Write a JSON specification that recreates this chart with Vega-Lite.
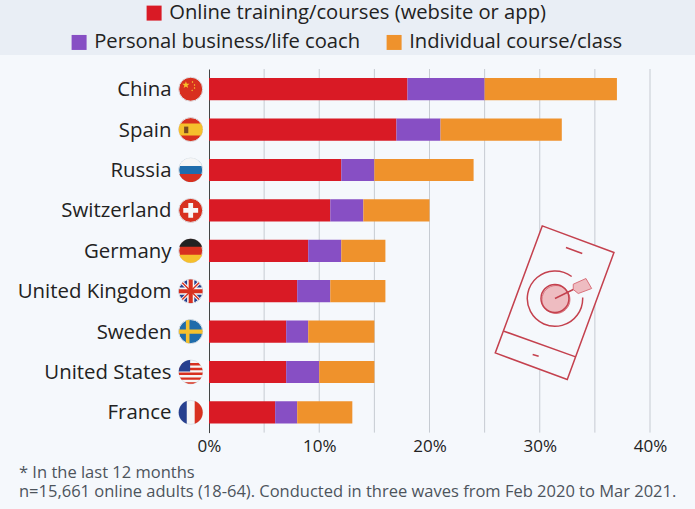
{"$schema":"https://vega.github.io/schema/vega-lite/v6.json","width":441,"height":363.6,"autosize":"none","padding":{"left":209,"top":69,"right":45,"bottom":76.4},"background":"#f5f8fc","config":{"view":{"stroke":null},"font":"Open Sans"},
"title":{"text":["* In the last 12 months","n=15,661 online adults (18-64). Conducted in three waves from Feb 2020 to Mar 2021."],"orient":"bottom","anchor":"start","frame":"group","dx":-190,"offset":10,"font":"Open Sans","fontSize":16.5,"fontWeight":"normal","color":"#4d545c","lineHeight":19.5},
"datasets":{"bars":[
{"country":"China","series":"Online training/courses (website or app)","rank":1,"value":18},{"country":"China","series":"Personal business/life coach","rank":2,"value":7},{"country":"China","series":"Individual course/class","rank":3,"value":12},
{"country":"Spain","series":"Online training/courses (website or app)","rank":1,"value":17},{"country":"Spain","series":"Personal business/life coach","rank":2,"value":4},{"country":"Spain","series":"Individual course/class","rank":3,"value":11},
{"country":"Russia","series":"Online training/courses (website or app)","rank":1,"value":12},{"country":"Russia","series":"Personal business/life coach","rank":2,"value":3},{"country":"Russia","series":"Individual course/class","rank":3,"value":9},
{"country":"Switzerland","series":"Online training/courses (website or app)","rank":1,"value":11},{"country":"Switzerland","series":"Personal business/life coach","rank":2,"value":3},{"country":"Switzerland","series":"Individual course/class","rank":3,"value":6},
{"country":"Germany","series":"Online training/courses (website or app)","rank":1,"value":9},{"country":"Germany","series":"Personal business/life coach","rank":2,"value":3},{"country":"Germany","series":"Individual course/class","rank":3,"value":4},
{"country":"United Kingdom","series":"Online training/courses (website or app)","rank":1,"value":8},{"country":"United Kingdom","series":"Personal business/life coach","rank":2,"value":3},{"country":"United Kingdom","series":"Individual course/class","rank":3,"value":5},
{"country":"Sweden","series":"Online training/courses (website or app)","rank":1,"value":7},{"country":"Sweden","series":"Personal business/life coach","rank":2,"value":2},{"country":"Sweden","series":"Individual course/class","rank":3,"value":6},
{"country":"United States","series":"Online training/courses (website or app)","rank":1,"value":7},{"country":"United States","series":"Personal business/life coach","rank":2,"value":3},{"country":"United States","series":"Individual course/class","rank":3,"value":5},
{"country":"France","series":"Online training/courses (website or app)","rank":1,"value":6},{"country":"France","series":"Personal business/life coach","rank":2,"value":2},{"country":"France","series":"Individual course/class","rank":3,"value":5}],
"flags":[
{"country":"China","part":"base","tone":"red"},{"country":"China","part":"star","tone":"yellow"},
{"country":"Spain","part":"base","tone":"red"},{"country":"Spain","part":"band","tone":"yellow"},{"country":"Spain","part":"crest","tone":"brown"},
{"country":"Russia","part":"base","tone":"blue"},{"country":"Russia","part":"top","tone":"white"},{"country":"Russia","part":"bottom","tone":"red"},
{"country":"Switzerland","part":"base","tone":"red"},{"country":"Switzerland","part":"plus","tone":"white"},
{"country":"Germany","part":"base","tone":"red"},{"country":"Germany","part":"top","tone":"black"},{"country":"Germany","part":"bottom","tone":"yellow"},
{"country":"United Kingdom","part":"base","tone":"navy"},{"country":"United Kingdom","part":"diag","tone":"white"},{"country":"United Kingdom","part":"crossWide","tone":"white"},{"country":"United Kingdom","part":"diagThin","tone":"red"},{"country":"United Kingdom","part":"crossThin","tone":"red"},
{"country":"Sweden","part":"base","tone":"blue"},{"country":"Sweden","part":"nordic","tone":"yellow"},
{"country":"United States","part":"base","tone":"white"},{"country":"United States","part":"stripes","tone":"red"},{"country":"United States","part":"canton","tone":"navy"},
{"country":"France","part":"base","tone":"white"},{"country":"France","part":"left","tone":"navy"},{"country":"France","part":"right","tone":"red"}]},
"resolve":{"scale":{"y":"independent","color":"independent"}},
"layer":[
{"data":{"values":[{"panel":"legend"}]},"mark":{"type":"rect","color":"#e9eef5"},"encoding":{"x":{"datum":-18.96,"type":"quantitative","scale":{"domain":[0,40]},"title":null,"axis":{"values":[0,10,20,30,40],"labelExpr":"datum.value+'%'","grid":false,"domain":false,"ticks":false,"labelFontSize":17,"labelColor":"#222222","labelPadding":6,"labelFont":"Open Sans","labelFlush":false,"labelOverlap":false}},"x2":{"datum":44.08},"y":{"datum":0,"type":"quantitative","scale":{"domain":[0,1],"range":[-69,-14]},"axis":null},"y2":{"datum":1}}},
{"data":{"values":[{"tick":5},{"tick":10},{"tick":15},{"tick":20},{"tick":25},{"tick":30},{"tick":35},{"tick":40}]},"mark":{"type":"rule","color":"#c6cbd2","strokeWidth":1},"encoding":{"x":{"field":"tick","type":"quantitative","title":null,"scale":{"domain":[0,40]}}}},
{"encoding":{"y":{"field":"country","type":"nominal","title":null,"scale":{"domain":["China","Spain","Russia","Switzerland","Germany","United Kingdom","Sweden","United States","France"],"paddingInner":0.45,"paddingOuter":0.225},"axis":{"ticks":false,"domainColor":"#444444","domainWidth":1,"labelPadding":38,"labelOffset":1,"labelFontSize":20.4,"labelColor":"#222222","labelFont":"Open Sans"}}},
"resolve":{"scale":{"color":"independent"}},
"layer":[
{"data":{"name":"bars"},"transform":[{"stack":"value","groupby":["country"],"sort":[{"field":"rank","order":"ascending"}],"as":["v0","v1"]},{"filter":"datum.rank==1"}],"mark":{"type":"bar"},"encoding":{"x":{"field":"v0","type":"quantitative","title":null,"scale":{"domain":[0,40]}},"x2":{"field":"v1"},"color":{"field":"series","type":"nominal","scale":{"domain":["Online training/courses (website or app)"],"range":["#d91a25"]},"legend":{"orient":"none","legendX":-65,"legendY":-66,"title":null,"symbolType":"square","symbolSize":225,"symbolStrokeWidth":0,"labelFontSize":20.2,"labelColor":"#222222","labelFont":"Open Sans","labelLimit":500,"labelOffset":5,"direction":"horizontal"}}}},
{"data":{"name":"bars"},"transform":[{"stack":"value","groupby":["country"],"sort":[{"field":"rank","order":"ascending"}],"as":["v0","v1"]},{"filter":"datum.rank>1"}],"mark":{"type":"bar"},"encoding":{"x":{"field":"v0","type":"quantitative","title":null,"scale":{"domain":[0,40]}},"x2":{"field":"v1"},"color":{"field":"series","type":"nominal","scale":{"domain":["Personal business/life coach","Individual course/class"],"range":["#874fc4","#ef922c"]},"legend":{"orient":"none","legendX":-140,"legendY":-37,"title":null,"symbolType":"square","symbolSize":225,"symbolStrokeWidth":0,"labelFontSize":20.2,"labelColor":"#222222","labelFont":"Open Sans","labelLimit":500,"labelOffset":5,"columnPadding":23,"direction":"horizontal"}}}},
{"data":{"name":"flags"},"encoding":{"x":{"datum":-1.66,"type":"quantitative","title":null,"scale":{"domain":[0,40]}},"color":{"field":"tone","type":"nominal","legend":null,"scale":{"domain":["red","blue","navy","white","yellow","black","brown"],"range":["#d8301f","#1f6cab","#27408f","#f6f6f6","#f5c02c","#222222","#7a4a20"]}}},
"layer":[
{"transform":[{"filter":"datum.part=='base'"}],"mark":{"type":"point","filled":true,"opacity":1,"shape":"circle","size":576,"stroke":"#dfe3e8","strokeWidth":1}},
{"transform":[{"filter":"datum.part=='band'"}],"mark":{"type":"point","filled":true,"opacity":1,"strokeWidth":0,"size":576,"shape":"M-.866,-.5L.866,-.5A1,1 0 0 1 .866,.5L-.866,.5A1,1 0 0 1 -.866,-.5Z"}},
{"transform":[{"filter":"datum.part=='crest'"}],"mark":{"type":"point","filled":true,"opacity":1,"strokeWidth":0,"size":576,"shape":"M-.55,-.25L-.2,-.25L-.2,.3L-.55,.3Z"}},
{"transform":[{"filter":"datum.part=='top'"}],"mark":{"type":"point","filled":true,"opacity":1,"strokeWidth":0,"size":576,"shape":"M-.944,-.33A1,1 0 0 1 .944,-.33Z"}},
{"transform":[{"filter":"datum.part=='bottom'"}],"mark":{"type":"point","filled":true,"opacity":1,"strokeWidth":0,"size":576,"shape":"M-.944,.33A1,1 0 0 0 .944,.33Z"}},
{"transform":[{"filter":"datum.part=='left'"}],"mark":{"type":"point","filled":true,"opacity":1,"strokeWidth":0,"size":576,"shape":"M-.33,-.944A1,1 0 0 0 -.33,.944Z"}},
{"transform":[{"filter":"datum.part=='right'"}],"mark":{"type":"point","filled":true,"opacity":1,"strokeWidth":0,"size":576,"shape":"M.33,-.944A1,1 0 0 1 .33,.944Z"}},
{"transform":[{"filter":"datum.part=='plus'"}],"mark":{"type":"point","filled":true,"opacity":1,"strokeWidth":0,"size":576,"shape":"M-.2,-.62L.2,-.62L.2,-.2L.62,-.2L.62,.2L.2,.2L.2,.62L-.2,.62L-.2,.2L-.62,.2L-.62,-.2L-.2,-.2Z"}},
{"transform":[{"filter":"datum.part=='diag'"}],"mark":{"type":"point","filled":true,"opacity":1,"strokeWidth":0,"size":576,"shape":"M-.8,-.6L-.6,-.8L.8,.6L.6,.8ZM-.6,.8L-.8,.6L.6,-.8L.8,-.6Z"}},
{"transform":[{"filter":"datum.part=='crossWide'"}],"mark":{"type":"point","filled":true,"opacity":1,"strokeWidth":0,"size":576,"shape":"M-.3,-.95L.3,-.95L.3,-.3L.95,-.3L.95,.3L.3,.3L.3,.95L-.3,.95L-.3,.3L-.95,.3L-.95,-.3L-.3,-.3Z"}},
{"transform":[{"filter":"datum.part=='diagThin'"}],"mark":{"type":"point","filled":true,"opacity":1,"strokeWidth":0,"size":576,"shape":"M-.74,-.66L-.66,-.74L.74,.66L.66,.74ZM-.66,.74L-.74,.66L.66,-.74L.74,-.66Z"}},
{"transform":[{"filter":"datum.part=='crossThin'"}],"mark":{"type":"point","filled":true,"opacity":1,"strokeWidth":0,"size":576,"shape":"M-.17,-.985L.17,-.985L.17,-.17L.985,-.17L.985,.17L.17,.17L.17,.985L-.17,.985L-.17,.17L-.985,.17L-.985,-.17L-.17,-.17Z"}},
{"transform":[{"filter":"datum.part=='nordic'"}],"mark":{"type":"point","filled":true,"opacity":1,"strokeWidth":0,"size":576,"shape":"M-.4,-.917L-.1,-.995L-.1,-.17L.985,-.17L.985,.17L-.1,.17L-.1,.995L-.4,.917L-.4,.17L-.985,.17L-.985,-.17L-.4,-.17Z"}},
{"transform":[{"filter":"datum.part=='stripes'"}],"mark":{"type":"point","filled":true,"opacity":1,"strokeWidth":0,"size":576,"shape":"M-.66,-.75L.66,-.75L.835,-.55L-.835,-.55ZM-.937,-.35L.937,-.35L.989,-.15L-.989,-.15ZM-.999,.05L.999,.05L.968,.25L-.968,.25ZM-.893,.45L.893,.45L.76,.65L-.76,.65ZM-.527,.85L.527,.85L.2,.98L-.2,.98Z"}},
{"transform":[{"filter":"datum.part=='canton'"}],"mark":{"type":"point","filled":true,"opacity":1,"strokeWidth":0,"size":576,"shape":"M-.999,-.05A1,1 0 0 1 -.05,-.999L-.05,-.05Z"}},
{"transform":[{"filter":"datum.part=='star'"}],"mark":{"type":"point","filled":true,"opacity":1,"strokeWidth":0,"size":576,"shape":"M-.4,-.67L-.324,-.455L-.096,-.449L-.276,-.31L-.212,-.091L-.4,-.22L-.588,-.091L-.524,-.31L-.704,-.449L-.476,-.455ZM.15,-.68L.22,-.6L.15,-.52L.08,-.6ZM.32,-.43L.39,-.35L.32,-.27L.25,-.35ZM.32,-.18L.39,-.1L.32,-.02L.25,-.1ZM.12,.02L.19,.1L.12,.18L.05,.1Z"}}
]},
{"data":{"values":[{"icon":"phone"}]},"encoding":{"x":{"datum":31.38,"type":"quantitative","title":null,"scale":{"domain":[0,40]}},"y":{"datum":"United Kingdom"}},
"layer":[
{"mark":{"type":"point","filled":true,"opacity":1,"size":4,"fill":"#f5f8fc","stroke":"#c4414e","strokeWidth":1.5,"shape":"M-12.7,-65.3L59,-38.7L12.3,88.3L-59.7,61.7Z"}},
{"mark":{"type":"point","filled":true,"opacity":1,"size":4,"fill":"#eebcc1","stroke":"#d9727c","strokeWidth":1,"shape":"M-13,8.3A14,14 0 1 1 15,8.3A14,14 0 1 1 -13,8.3ZM18.3,-7L31,-12.7L36.7,-2.7L23.3,2.3L18.3,-1.7Z"}},
{"mark":{"type":"point","filled":false,"opacity":1,"size":4,"stroke":"#c4414e","strokeWidth":1.5,"shape":"M-51,40L20.7,65.7M11,-43.7L27.3,-37.7M-22.3,63.3L-16.3,65M16.7,-14.7A27.7,27.7 0 1 0 27.7,6.3M-14,7.3A14,14 0 1 1 14,7.3A14,14 0 1 1 -14,7.3M0,7.3L18.3,-1.7"}}
]}
]}
]}
